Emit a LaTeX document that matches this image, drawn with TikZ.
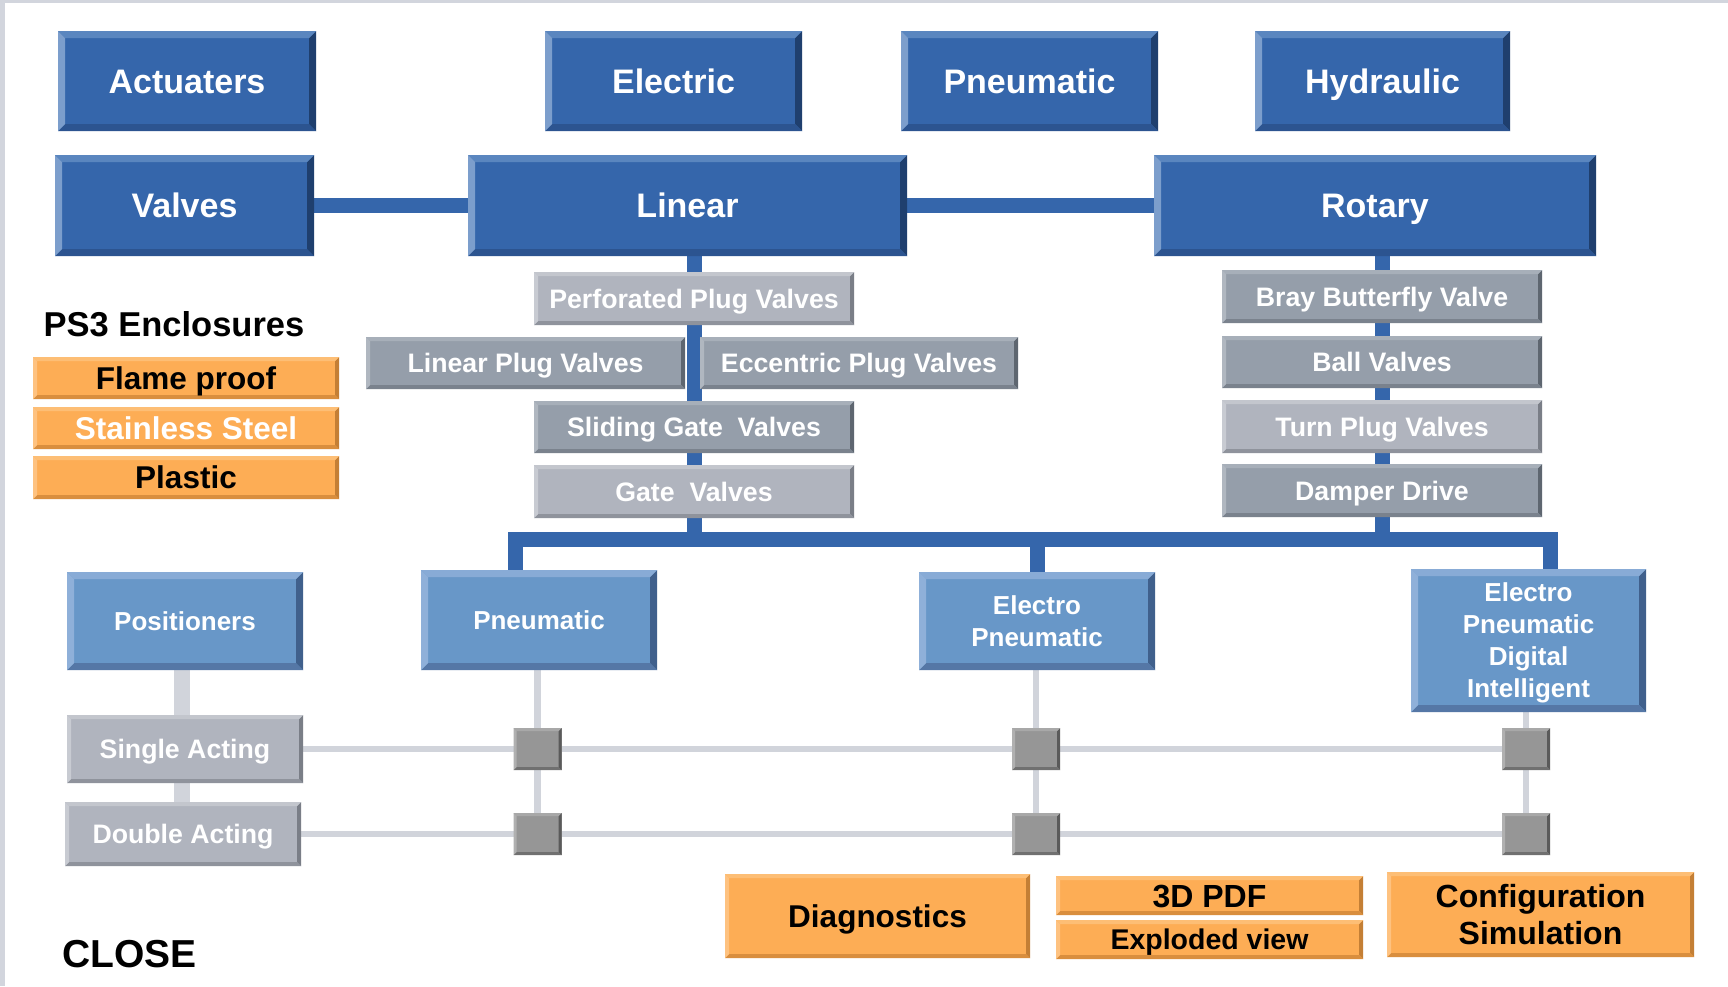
\documentclass[tikz,border=0pt]{standalone}
\usepackage{fontspec}
\setmainfont{Liberation Sans}
\usetikzlibrary{calc}
\pgfdeclarelayer{bg}
\pgfsetlayers{bg,main}
\definecolor{bluF}{HTML}{3566AB}
\definecolor{bluT}{HTML}{5A86BF}
\definecolor{bluL}{HTML}{7C9ECC}
\definecolor{bluB}{HTML}{2C5490}
\definecolor{bluR}{HTML}{1F3F6E}
\definecolor{lbF}{HTML}{6897C8}
\definecolor{lbT}{HTML}{88ABD6}
\definecolor{lbL}{HTML}{8FB0D9}
\definecolor{lbB}{HTML}{5577A6}
\definecolor{lbR}{HTML}{40608C}
\definecolor{dgF}{HTML}{959EAA}
\definecolor{dgT}{HTML}{A7AFB9}
\definecolor{dgL}{HTML}{B0B7C0}
\definecolor{dgB}{HTML}{7A828D}
\definecolor{dgR}{HTML}{5E6670}
\definecolor{lgF}{HTML}{B0B4BE}
\definecolor{lgT}{HTML}{C3C6CD}
\definecolor{lgL}{HTML}{C8CBD2}
\definecolor{lgB}{HTML}{8F939C}
\definecolor{lgR}{HTML}{7A7E87}
\definecolor{orF}{HTML}{FDAD55}
\definecolor{orT}{HTML}{FDBE75}
\definecolor{orL}{HTML}{FEC280}
\definecolor{orB}{HTML}{D98E3E}
\definecolor{orR}{HTML}{C47F35}
\definecolor{sqF}{HTML}{969696}
\definecolor{sqT}{HTML}{A8A8A8}
\definecolor{sqL}{HTML}{B0B0B0}
\definecolor{sqB}{HTML}{707070}
\definecolor{sqR}{HTML}{5A5A5A}
\definecolor{lnG}{HTML}{D1D4DB}
\definecolor{frameG}{HTML}{D2D5DD}
\newcommand\myfs[2]{\fontsize{#1pt}{#2pt}\selectfont}
\tikzset{
 bev/.style 2 args={inner sep=0pt, align=center, draw=none, fill=#1F,
   path picture={
     \path (path picture bounding box.north west) coordinate (bNW)
           (path picture bounding box.north east) coordinate (bNE)
           (path picture bounding box.south west) coordinate (bSW)
           (path picture bounding box.south east) coordinate (bSE);
     \fill[#1R] (bNE) -- (bSE) -- ([shift={(-#2pt,#2pt)}]bSE) -- ([shift={(-#2pt,-#2pt)}]bNE) -- cycle;
     \fill[#1B] (bSW) -- (bSE) -- ([shift={(-#2pt,#2pt)}]bSE) -- ([shift={(#2pt,#2pt)}]bSW) -- cycle;
     \fill[#1T] (bNW) -- (bNE) -- ([shift={(-#2pt,-#2pt)}]bNE) -- ([shift={(#2pt,-#2pt)}]bNW) -- cycle;
     \fill[#1L] (bNW) -- (bSW) -- ([shift={(#2pt,#2pt)}]bSW) -- ([shift={(#2pt,-#2pt)}]bNW) -- cycle;
   }},
 sz/.style 2 args={minimum width=#1pt, minimum height=#2pt},
 bigbox/.style={bev={blu}{7}, text=white, font=\myfs{34}{40}\bfseries, text height=24.5pt, text depth=0pt},
 dgbox/.style={bev={dg}{4}, text=white, font=\myfs{26.7}{30}\bfseries, text height=19.2pt, text depth=0pt},
 lgbox/.style={bev={lg}{4}, text=white, font=\myfs{26.7}{30}\bfseries, text height=19.2pt, text depth=0pt},
 lbbox/.style={bev={lb}{7}, text=white, font=\myfs{26}{32}\bfseries},
 lbone/.style={lbbox, text height=18.7pt, text depth=0pt},
 orbox/.style={bev={or}{4}, text=black, font=\myfs{31.5}{36}\bfseries},
 orone/.style={orbox, text height=22.7pt, text depth=0pt},
 sqbox/.style={bev={sq}{3}, minimum width=48pt, minimum height=42pt},
 bluecon/.style={draw=bluF, line width=15pt, line join=miter},
 graycon/.style={draw=lnG, line width=6.5pt},
 poscon/.style={draw=lnG, line width=16pt},
 plain/.style={inner sep=0pt, text=black},
}
\begin{document}
\begin{tikzpicture}[x=1pt,y=-1pt]
\useasboundingbox (0,0) rectangle (1728,986);

% top row
\node[bigbox, sz={258}{100}] (act) at (187,81) {Actuaters};
\node[bigbox, sz={257}{100}] (elec) at (673.5,81) {Electric};
\node[bigbox, sz={257}{100}] (pneuT) at (1029.5,81) {Pneumatic};
\node[bigbox, sz={255}{100}] (hyd) at (1382.5,81) {Hydraulic};
% second row
\node[bigbox, sz={259}{101}] (valves) at (184.5,205.5) {Valves};
\node[bigbox, sz={439}{101}] (linear) at (687.5,205.5) {Linear};
\node[bigbox, sz={442}{101}] (rotary) at (1375,205.5) {Rotary};
% linear valves
\node[lgbox, sz={320}{53}] (perf) at (694,298.5) {Perforated Plug Valves};
\node[dgbox, sz={319}{52}] (lplug) at (525.5,363) {Linear Plug Valves};
\node[dgbox, sz={318}{52}] (ecc) at (859,363) {Eccentric Plug Valves};
\node[dgbox, sz={320}{52}] (slide) at (694,427) {Sliding Gate\ \ Valves};
\node[lgbox, sz={320}{53}] (gate) at (694,491.5) {Gate\ \ Valves};
% rotary valves
\node[dgbox, sz={320}{53}] (bray) at (1382,296.5) {Bray Butterfly Valve};
\node[dgbox, sz={320}{52}] (ball) at (1382,362) {Ball Valves};
\node[lgbox, sz={320}{53}] (turn) at (1382,426.5) {Turn Plug Valves};
\node[dgbox, sz={320}{53}] (damper) at (1382,490.5) {Damper Drive};
% enclosures
\node[plain, font=\myfs{34.5}{38}\bfseries] (ps3) at (174,324) {PS3 Enclosures};
\node[orone, sz={306}{42}] (flame) at (186,378) {Flame proof};
\node[orone, sz={306}{42}, text=white] (stain) at (186,428) {Stainless Steel};
\node[orone, sz={306}{43}] (plastic) at (186,477.5) {Plastic};
% positioners
\node[lbone, sz={236}{98}] (pos) at (185,621) {Positioners};
\node[lbone, sz={236}{100}] (pneu2) at (539,620) {Pneumatic};
\node[lbbox, sz={236}{98}] (ep) at (1037,621) {Electro\\Pneumatic};
\node[lbbox, sz={235}{143}, text depth=0pt] (epdi) at (1528.5,640.5) {Electro\\Pneumatic\\Digital\\Intelligent};
\node[lgbox, sz={236}{68}] (single) at (185,749) {Single Acting};
\node[lgbox, sz={236}{64}] (double) at (183,834) {Double Acting};
% squares
\node[sqbox] (s11) at (537.5,749) {};
\node[sqbox] (s12) at (1036,749) {};
\node[sqbox] (s13) at (1526,749) {};
\node[sqbox] (s21) at (537.5,834) {};
\node[sqbox] (s22) at (1036,834) {};
\node[sqbox] (s23) at (1526,834) {};
% bottom orange
\node[orone, sz={305}{84}] (diag) at (877.5,916) {Diagnostics};
\node[orbox, sz={307}{39}, font=\myfs{32}{36}\bfseries, text height=23pt, text depth=0pt] (pdf) at (1209.5,895.5) {3D PDF};
\node[orbox, sz={307}{39}, font=\myfs{28.5}{34}\bfseries, text height=20.5pt, text depth=0pt] (expl) at (1209.5,939.5) {Exploded view};
\node[orbox, sz={307}{85}, font=\myfs{32}{37}\bfseries] (config) at (1540.5,914.5) {Configuration\\Simulation};
\node[plain, font=\myfs{39}{44}\bfseries] (close) at (129.5,954.5) {CLOSE};

\coordinate (bj1) at (515,539);
\coordinate (bj3) at (1550,539);
\coordinate (pc) at (182,0);

\begin{pgfonlayer}{bg}
\fill[white] (0,0) rectangle (1728,986);
\fill[frameG] (0,0) rectangle (1728,3);
\fill[frameG] (0,0) rectangle (5,986);
\draw[bluecon] (valves.east) -- (linear.west);
\draw[bluecon] (linear.east) -- (rotary.west);
\draw[bluecon] (linear.south -| perf) -- (perf |- bj1);
\draw[bluecon] (rotary.south -| bray) -- (bray |- bj1);
\draw[bluecon] (pneu2.north -| bj1) -- (bj1) -- (bj3) -- (epdi.north -| bj3);
\draw[bluecon] (ep |- bj1) -- (ep.north);
\draw[poscon] (pos.south -| pc) -- (double.north -| pc);
\draw[graycon] (single.east) -- (s13.center);
\draw[graycon] (double.east) -- (s23.center);
\draw[graycon] (pneu2.south -| s11) -- (s21.center);
\draw[graycon] (ep.south -| s12) -- (s22.center);
\draw[graycon] (epdi.south -| s13) -- (s23.center);
\end{pgfonlayer}
\end{tikzpicture}
\end{document}
